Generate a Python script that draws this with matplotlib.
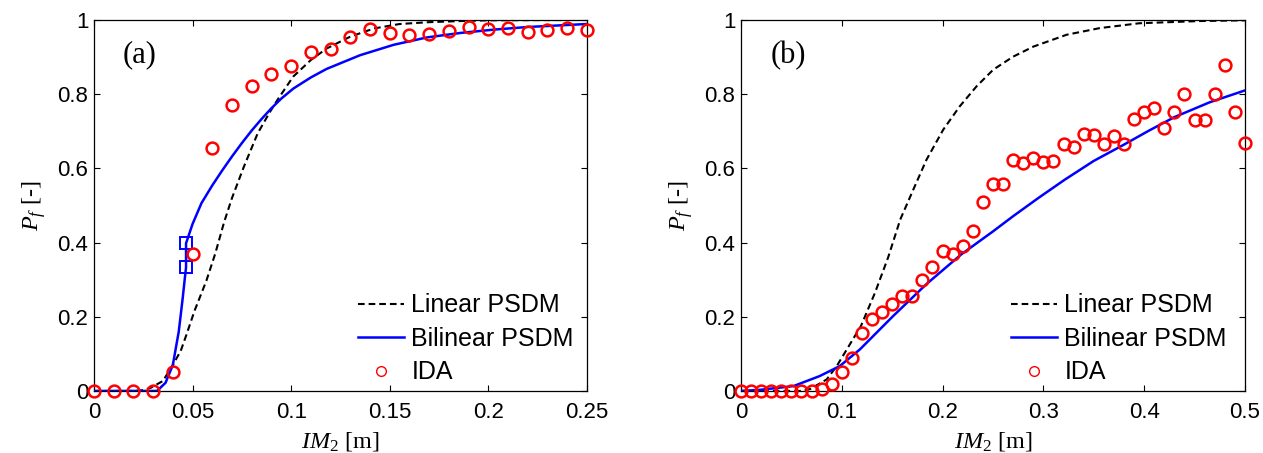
import numpy as np
import matplotlib
matplotlib.use("Agg")
import matplotlib.pyplot as plt
from matplotlib.lines import Line2D
from matplotlib.ticker import FormatStrFormatter

plt.rcParams["font.family"] = ["Liberation Sans", "DejaVu Sans"]
plt.rcParams["mathtext.fontset"] = "custom"
plt.rcParams["mathtext.rm"] = "Liberation Serif"
plt.rcParams["mathtext.it"] = "Liberation Serif:italic"

# ---------------------------------------------------------------------------
# panel (a)
# ---------------------------------------------------------------------------
ida_a_x = [0.00, 0.01, 0.02, 0.03, 0.04, 0.05, 0.06, 0.07, 0.08, 0.09, 0.10,
           0.11, 0.12, 0.13, 0.14, 0.15, 0.16, 0.17, 0.18, 0.19, 0.20, 0.21,
           0.22, 0.23, 0.24, 0.25]
ida_a_y = [0.0, 0.0, 0.0, 0.0, 0.051, 0.368, 0.656, 0.770, 0.823, 0.854, 0.876,
           0.913, 0.922, 0.953, 0.975, 0.964, 0.959, 0.962, 0.971, 0.980, 0.976,
           0.977, 0.968, 0.974, 0.977, 0.974]

lin_a_x = [0.0, 0.020, 0.025, 0.029, 0.035, 0.040, 0.044, 0.047, 0.051, 0.057,
           0.0615, 0.066, 0.070, 0.076, 0.083, 0.089, 0.093, 0.101, 0.110, 0.118,
           0.130, 0.142, 0.155, 0.170, 0.186, 0.200, 0.250]
lin_a_y = [0.0, 0.0, 0.002, 0.009, 0.027, 0.070, 0.108, 0.153, 0.216, 0.297,
           0.370, 0.455, 0.520, 0.604, 0.694, 0.750, 0.784, 0.847, 0.892, 0.923,
           0.955, 0.977, 0.989, 0.994, 0.997, 0.999, 1.0]

bil_a_x = [0.0, 0.032, 0.0363, 0.0400, 0.0430, 0.0450, 0.0460, 0.0467, 0.0467,
           0.0500, 0.0545, 0.0600, 0.0650, 0.0700, 0.0750, 0.0800, 0.0850,
           0.0900, 0.0950, 0.1011, 0.110, 0.118, 0.135, 0.152, 0.169, 0.186,
           0.203, 0.220, 0.250]
bil_a_y = [0.0, 0.0, 0.022, 0.070, 0.160, 0.250, 0.300, 0.333, 0.398,
           0.450, 0.506, 0.554, 0.594, 0.632, 0.668, 0.702, 0.733,
           0.762, 0.788, 0.815, 0.845, 0.868, 0.905, 0.933, 0.953, 0.965,
           0.974, 0.981, 0.989]

sq_a_x = [0.0467, 0.0467]
sq_a_y = [0.333, 0.398]

# ---------------------------------------------------------------------------
# panel (b)
# ---------------------------------------------------------------------------
ida_b_x = [0.00, 0.01, 0.02, 0.03, 0.04, 0.05, 0.06, 0.07, 0.08, 0.09, 0.10,
           0.11, 0.12, 0.13, 0.14, 0.15, 0.16, 0.17, 0.18, 0.19, 0.20, 0.21,
           0.22, 0.23, 0.24, 0.25, 0.26, 0.27, 0.28, 0.29, 0.30, 0.31, 0.32,
           0.33, 0.34, 0.35, 0.36, 0.37, 0.38, 0.39, 0.40, 0.41, 0.42, 0.43,
           0.44, 0.45, 0.46, 0.47, 0.48, 0.49, 0.50]
ida_b_y = [0.0, 0.0, 0.0, 0.0, 0.0, 0.0, 0.0, 0.0, 0.006, 0.020, 0.051,
           0.088, 0.157, 0.193, 0.213, 0.233, 0.256, 0.256, 0.298, 0.335, 0.378,
           0.370, 0.390, 0.431, 0.508, 0.557, 0.557, 0.623, 0.614, 0.627, 0.617,
           0.621, 0.665, 0.658, 0.692, 0.689, 0.666, 0.686, 0.666, 0.734, 0.751,
           0.763, 0.708, 0.751, 0.800, 0.730, 0.730, 0.800, 0.878, 0.751, 0.667]

lin_b_x = [0.0, 0.060, 0.0685, 0.085, 0.095, 0.105, 0.119, 0.133, 0.146, 0.158,
           0.171, 0.184, 0.2006, 0.217, 0.2337, 0.2503, 0.270, 0.290, 0.323,
           0.356, 0.395, 0.455, 0.500]
lin_b_y = [0.0, 0.0, 0.005, 0.031, 0.067, 0.112, 0.175, 0.265, 0.360, 0.462,
           0.543, 0.623, 0.704, 0.767, 0.821, 0.866, 0.901, 0.928, 0.960,
           0.978, 0.991, 0.997, 0.999]

bil_b_x = [0.0, 0.019, 0.052, 0.078, 0.098, 0.118, 0.151, 0.184, 0.2185, 0.250,
           0.270, 0.295, 0.321, 0.350, 0.380, 0.405, 0.430, 0.465, 0.500]
bil_b_y = [0.0, 0.003, 0.013, 0.040, 0.067, 0.112, 0.202, 0.288, 0.368, 0.430,
           0.471, 0.520, 0.569, 0.620, 0.664, 0.702, 0.738, 0.778, 0.810]

y_ticks = [0, 0.2, 0.4, 0.6, 0.8, 1]
x_ticks_a = [0, 0.05, 0.1, 0.15, 0.2, 0.25]
x_ticks_b = [0, 0.1, 0.2, 0.3, 0.4, 0.5]

RED = "#ff0000"
BLUE = "#0000ff"
DASH = (0, (3.2, 1.9))


def draw_panel(ax, lin_x, lin_y, bil_x, bil_y, ida_x, ida_y, xticks, tag,
               sq_x=None, sq_y=None):
    ax.plot(lin_x, lin_y, color="k", linestyle=DASH, linewidth=1.5, zorder=3)
    ax.plot(bil_x, bil_y, color=BLUE, linewidth=1.8, zorder=3)
    if sq_x is not None:
        ax.plot(sq_x, sq_y, linestyle="none", marker="s", markersize=8,
                markerfacecolor="none", markeredgecolor=BLUE,
                markeredgewidth=1.4, zorder=4)
    ax.plot(ida_x, ida_y, linestyle="none", marker="o", markersize=8.5,
            markerfacecolor="none", markeredgecolor=RED, markeredgewidth=1.8,
            clip_on=False, zorder=5)

    ax.set_xlim(xticks[0], xticks[-1])
    ax.set_ylim(0, 1)
    ax.set_xticks(xticks)
    ax.set_yticks(y_ticks)
    ax.xaxis.set_major_formatter(FormatStrFormatter("%g"))
    ax.yaxis.set_major_formatter(FormatStrFormatter("%g"))
    ax.tick_params(direction="in", top=True, right=True, length=4, width=0.8,
                   labelsize=16)
    ax.tick_params(axis="x", pad=8)
    ax.tick_params(axis="y", pad=4)
    for s in ax.spines.values():
        s.set_linewidth(0.9)

    ax.set_xlabel(r"$IM_2$ [m]", fontfamily="Liberation Serif", fontsize=17.5,
                  labelpad=5)
    ax.set_ylabel(r"$P_f$ [-]", fontfamily="Liberation Serif", fontsize=17.5,
                  labelpad=7)
    ax.text(0.058, 0.905, tag, transform=ax.transAxes, ha="left", va="center",
            fontfamily="Liberation Serif", fontsize=22)

    handles = [
        Line2D([], [], color="k", linestyle=DASH, linewidth=1.5),
        Line2D([], [], color=BLUE, linewidth=1.8),
        Line2D([], [], linestyle="none", marker="o", markersize=7,
               markerfacecolor="none", markeredgecolor=RED,
               markeredgewidth=1.0),
    ]
    ax.legend(handles, ["Linear PSDM", "Bilinear PSDM", "IDA"],
              loc="lower left", bbox_to_anchor=(0.535, 0.018), frameon=False,
              fontsize=18, handlelength=1.85, handletextpad=0.3,
              labelspacing=0.38, borderpad=0, borderaxespad=0)


fig = plt.figure(figsize=(12.63, 4.53), dpi=100)
ax_a = fig.add_axes([0.0744, 0.137, 0.3903, 0.819])
ax_b = fig.add_axes([0.5867, 0.137, 0.399, 0.819])

draw_panel(ax_a, lin_a_x, lin_a_y, bil_a_x, bil_a_y, ida_a_x, ida_a_y,
           x_ticks_a, "(a)", sq_a_x, sq_a_y)
draw_panel(ax_b, lin_b_x, lin_b_y, bil_b_x, bil_b_y, ida_b_x, ida_b_y,
           x_ticks_b, "(b)")

fig.savefig("out.png", dpi=100)
